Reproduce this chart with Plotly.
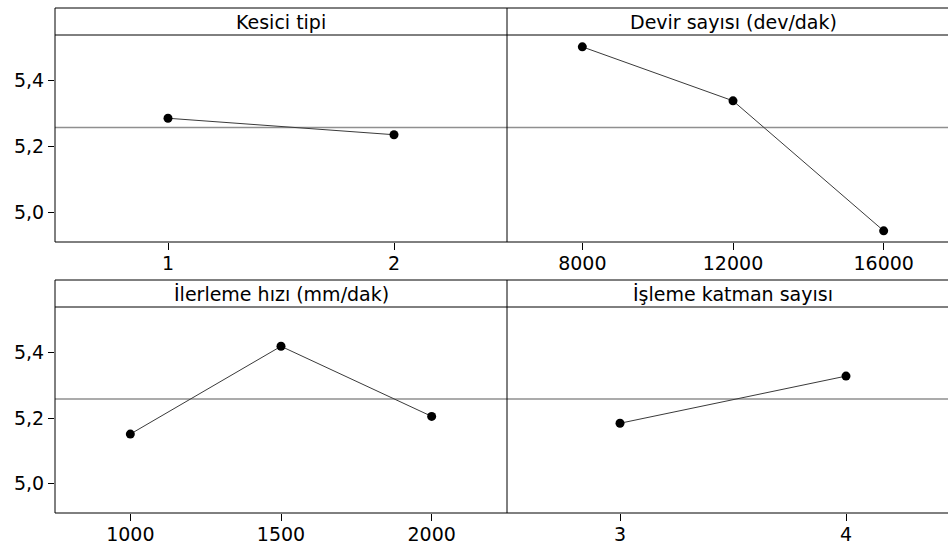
import plotly.graph_objects as go

# Main effects plot for means: four factors, shared response scale
factor_names = ["Kesici tipi", "Devir sayısı (dev/dak)",
                "İlerleme hızı (mm/dak)", "İşleme katman sayısı"]
kesici_levels = ["1", "2"]
kesici_means = [5.286, 5.236]
devir_levels = ["8000", "12000", "16000"]
devir_means = [5.503, 5.339, 4.944]
ilerleme_levels = ["1000", "1500", "2000"]
ilerleme_means = [5.151, 5.419, 5.205]
katman_levels = ["3", "4"]
katman_means = [5.184, 5.328]
grand_mean = 5.258

y_ticks = [5.0, 5.2, 5.4]
y_tick_text = ["5,0", "5,2", "5,4"]

W, H = 948, 549
FONT = "DejaVu Sans"

# panel geometry in pixels (left, right, header top, plot top, plot bottom)
col_px = [(55, 507), (507, 959)]
row_px = [(8, 35, 242), (280, 307, 513)]


def px_x(v):
    return v / W


def px_y(v):
    return 1 - v / H


panels = [
    (kesici_levels, kesici_means, 0, 0),
    (devir_levels, devir_means, 0, 1),
    (ilerleme_levels, ilerleme_means, 1, 0),
    (katman_levels, katman_means, 1, 1),
]

fig = go.Figure()
shapes = []
annotations = []
y_range = [4.910, 5.539]

for i, (levels, means, r, c) in enumerate(panels, start=1):
    xa = "x" if i == 1 else f"x{i}"
    ya = "y" if i == 1 else f"y{i}"
    left, right = col_px[c]
    htop, ptop, pbot = row_px[r]
    n = len(levels)
    # full panel spans [0.5, n+0.5]; clip the part beyond the page edge
    unit = (right - left) / n
    vis_right = min(right, W)
    x_hi = 0.5 + (vis_right - left) / unit
    idx = list(range(1, n + 1))

    fig.add_trace(go.Scatter(
        x=idx, y=means, mode="lines+markers", xaxis=xa, yaxis=ya,
        line=dict(color="#3a3a3a", width=1),
        marker=dict(color="black", size=9),
        showlegend=False, cliponaxis=False,
    ))

    xkey = "xaxis" if i == 1 else f"xaxis{i}"
    ykey = "yaxis" if i == 1 else f"yaxis{i}"
    fig.layout[xkey] = dict(
        domain=[px_x(left), px_x(vis_right)], range=[0.5, x_hi],
        anchor=ya, tickvals=idx, ticktext=levels,
        ticks="outside", ticklen=7, tickcolor="black", tickwidth=1,
        ticklabelstandoff=-3,
        showgrid=False, zeroline=False, showline=False,
        tickfont=dict(family=FONT, size=19, color="black"),
        fixedrange=True,
    )
    fig.layout[ykey] = dict(
        domain=[px_y(pbot), px_y(ptop)], range=y_range,
        anchor=xa, tickvals=y_ticks,
        ticktext=y_tick_text if c == 0 else [""] * len(y_ticks),
        ticks="outside" if c == 0 else "", ticklen=6, tickcolor="black",
        showgrid=False, zeroline=False, showline=False,
        tickfont=dict(family=FONT, size=19, color="black"),
        fixedrange=True,
    )

    # reference line at the overall mean
    shapes.append(dict(type="line", xref=f"{xa} domain", yref=ya,
                       x0=0, x1=1, y0=grand_mean, y1=grand_mean,
                       line=dict(color="#8f8f8f", width=1.6), layer="below"))

    # header strip with factor name
    annotations.append(dict(
        text=factor_names[i - 1], xref="paper", yref="paper",
        x=px_x((left + right) / 2), y=px_y((htop + ptop) / 2),
        xanchor="center", yanchor="middle", showarrow=False,
        font=dict(family=FONT, size=19, color="black"),
    ))

# frame lines
border = dict(color="black", width=1)
for htop, ptop, pbot in row_px:
    for yy in (htop, ptop, pbot):
        shapes.append(dict(type="line", xref="paper", yref="paper",
                           x0=px_x(55), x1=1, y0=px_y(yy), y1=px_y(yy),
                           line=border))
    for xx in (55, 507):
        shapes.append(dict(type="line", xref="paper", yref="paper",
                           x0=px_x(xx), x1=px_x(xx),
                           y0=px_y(htop), y1=px_y(pbot), line=border))

fig.update_layout(
    width=W, height=H, margin=dict(l=0, r=0, t=0, b=0),
    paper_bgcolor="white", plot_bgcolor="white",
    shapes=shapes, annotations=annotations,
    font=dict(family=FONT, color="black"),
)

fig.write_html("out.html")
